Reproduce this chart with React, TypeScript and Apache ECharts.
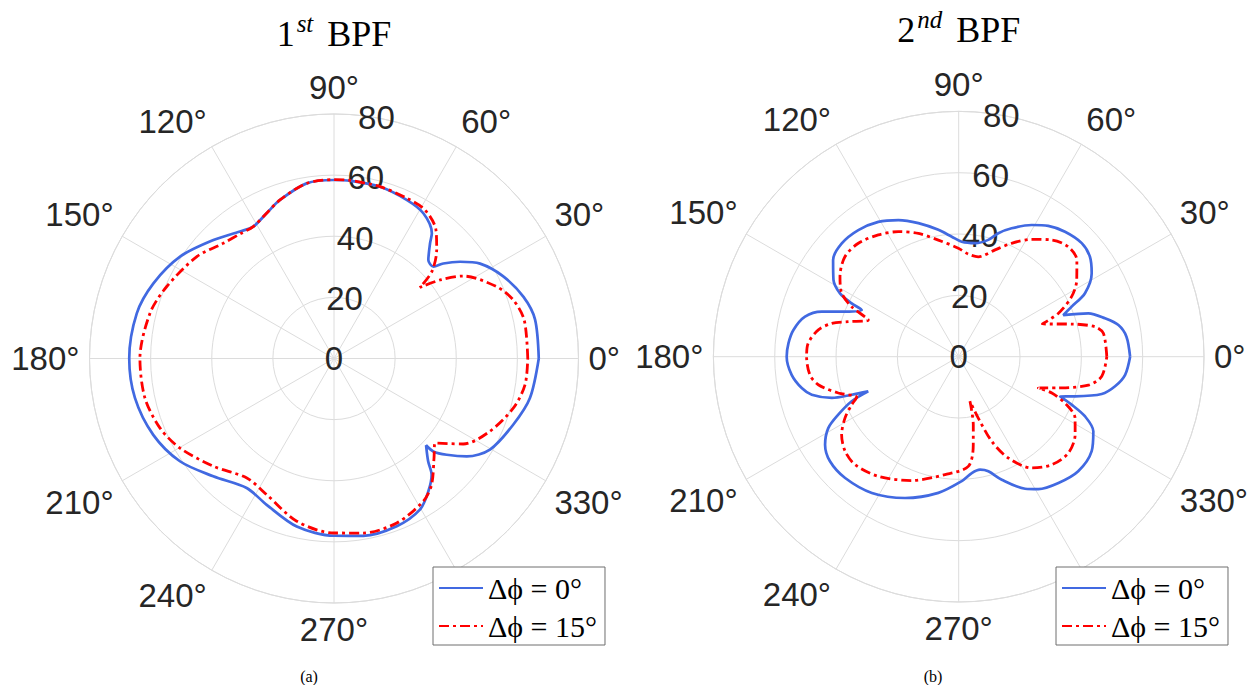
import React, { useEffect, useRef } from "react";
import * as echarts from "echarts";

// ---------- data ----------
const seriesNames = ["Δϕ = 0°", "Δϕ = 15°"];
const radiusTicks = [0, 20, 40, 60, 80];
const angleStep = 30;
// angle tick hidden under the legend box in the reference
const hiddenAngleLabels = [300, 360];

// 1st BPF, Δϕ = 0°
const left0Angles = [0, 11, 18, 26, 33, 37.5, 41, 42.7, 46.2, 50.2, 52, 58.4, 65.4, 75, 84.9, 90, 98.9, 108.8, 114.9, 121.5, 126.5, 135.5, 146.5, 157.4, 167.1, 180, 191.2, 202.9, 213.7, 224.3, 236, 245.3, 257.5, 270, 279.4, 290.5, 299.6, 305.4, 310, 312.5, 316.7, 316.9, 319.5, 323.6, 329.7, 339.7, 348.6, 360];
const left0R = [67, 67, 65.2, 61.5, 57, 52, 47.4, 44.3, 44.6, 49.1, 52, 55.8, 57.1, 58.2, 58.4, 58.4, 58, 54.8, 52.4, 50.6, 51.7, 55.3, 60.4, 64, 66.2, 67, 66.4, 64.2, 60.6, 55.2, 51.1, 52.7, 56.3, 58, 58.8, 58.6, 56.9, 53.3, 49.7, 45.6, 41.4, 44.5, 48.5, 54, 59.1, 62.5, 65.4, 67];

// 1st BPF, Δϕ = 15°
const left15Angles = [0, 11.4, 18.1, 23.8, 32.5, 36.5, 39.6, 41.6, 46.6, 51.6, 58.5, 65.6, 75, 84.9, 90, 98.9, 108.8, 114.9, 121.5, 126.5, 133.9, 143.4, 156.8, 166.2, 180, 191.8, 201.8, 210.2, 221.8, 233.9, 243.7, 257.1, 270, 279.5, 290.9, 302, 307.7, 315.1, 320.1, 326.5, 335, 344.6, 352.2, 360];
const left15R = [63.4, 63.5, 61.7, 58.2, 50.2, 43.2, 36.5, 42.8, 48.9, 53.7, 57, 57.6, 58.2, 58.5, 58.5, 58, 54.8, 52.4, 50.6, 51, 52.3, 55.9, 59.6, 62, 63.5, 63.2, 61.3, 58.3, 52.9, 48.4, 49.7, 54.6, 57.1, 57.9, 57.6, 55.1, 52.2, 46.2, 43.1, 50.7, 56.3, 60.9, 63.1, 63.4];

// 2nd BPF, Δϕ = 0°
const right0Angles = [0, 6.8, 11.2, 14.7, 18.5, 21.7, 23.9, 26.7, 32.1, 37.3, 42.7, 49.6, 55.6, 61, 67.6, 72.2, 75.8, 81.8, 88.5, 93.3, 99.1, 106.8, 113.8, 120.8, 128.4, 135.9, 142.4, 148.5, 151.9, 153.5, 154.3, 158.4, 161.8, 165.4, 170.8, 175.5, 180, 186.2, 191.3, 194.5, 198, 199.6, 201, 202.6, 205.7, 208.7, 213.4, 219.1, 226.9, 237.5, 249.2, 261.5, 271.4, 276.4, 280.7, 284.5, 289.3, 296.7, 301, 308.3, 316.2, 324.6, 331, 334.7, 337, 338.6, 341.2, 345.4, 349.3, 353.8, 360];
const right0R = [55.9, 55.1, 53.1, 49.3, 44.6, 36.7, 40.3, 46.1, 51.2, 53.8, 54.6, 53.5, 51.7, 49.1, 45.3, 42.3, 39.3, 37.4, 37.5, 39.2, 41.9, 45.5, 48.7, 51.2, 52.7, 53.1, 51.7, 47.9, 43.9, 39, 35.1, 39.9, 47, 51.8, 54.6, 55.7, 56.1, 54.8, 52.2, 49.5, 43.5, 37, 31.6, 37.8, 43.6, 48.5, 52.2, 54.1, 54.2, 52.7, 49.3, 44.9, 40.6, 38.2, 37.5, 38.6, 42.5, 48.2, 50.4, 52.5, 54, 53.2, 50.2, 45.6, 40, 35.5, 40.1, 48.2, 51.9, 54.6, 55.9];

// 2nd BPF, Δϕ = 15°
const right15Angles = [0, 9.2, 12.4, 16.1, 21.4, 23.5, 28, 33, 39.3, 45.1, 51.4, 58.1, 65, 71.2, 78.9, 84.7, 90.2, 99.9, 108.1, 115.8, 123.4, 131.5, 138.7, 146, 151.5, 155, 157.9, 162.4, 165.3, 169.2, 174.9, 180, 186.9, 191.3, 196.8, 201.7, 204.2, 208.3, 213.7, 219.8, 226.2, 236.1, 249.2, 263.4, 275, 279.4, 282.1, 284.2, 287.7, 291.3, 296.1, 303.3, 310.7, 318.7, 326.2, 332.2, 336, 338.7, 338.5, 342.6, 347.6, 352.2, 360];
const right15R = [48.3, 47.8, 45.5, 38.4, 29.3, 35.4, 41.7, 45.9, 49.8, 50.6, 48.7, 45.1, 40.8, 36.8, 33.2, 33.6, 35.4, 38.6, 42.3, 45.3, 47.6, 49.4, 49.4, 46.7, 43.4, 38.5, 31.8, 37.8, 42.8, 46.6, 49.3, 49.6, 48.9, 46.7, 41, 35.8, 38.3, 42.1, 45.9, 48.2, 48.8, 47, 43.2, 38.7, 35.9, 29.1, 22.7, 15, 21, 29.6, 36.8, 43.4, 46.5, 47.6, 45.7, 42.9, 38.5, 32.6, 27.9, 34, 43.3, 47.1, 48.3];

const panelTitles = [
  { base: "1", sup: "st", rest: " BPF" },
  { base: "2", sup: "nd", rest: " BPF" },
];
const captions = ["(a)", "(b)"];

// ---------- styles ----------
const BLUE = "#4169e1";
const RED = "#ff0000";
const GRID = "#dcdcdc";
const TXT = "#262626";
const SANS = "Liberation Sans, Arial, Helvetica, sans-serif";
const SERIF = "Liberation Serif, DejaVu Serif, serif";

const panels = [
  { center: [334, 358.5], radius: 244.5, titleY: 33.5, legendLeft: 433, capX: 309 },
  { center: [958.7, 356.7], radius: 245.3, titleY: 30, legendLeft: 1056, capX: 933 },
];

const pairs = (r: number[], a: number[]) => r.map((v, i) => [v, a[i]]);

function buildOption() {
  const polar: any[] = [];
  const angleAxis: any[] = [];
  const radiusAxis: any[] = [];
  const series: any[] = [];
  const legend: any[] = [];
  const graphic: any[] = [];
  const rMax = radiusTicks[radiusTicks.length - 1];
  const rStep = radiusTicks[1] - radiusTicks[0];
  const dataSets = [
    [pairs(left0R, left0Angles), pairs(left15R, left15Angles)],
    [pairs(right0R, right0Angles), pairs(right15R, right15Angles)],
  ];

  panels.forEach((p, k) => {
    const main = polar.length;
    polar.push({ center: p.center, radius: p.radius });
    polar.push({ center: p.center, radius: p.radius });
    angleAxis.push({
      polarIndex: main,
      type: "value",
      min: 0,
      max: 360,
      interval: angleStep,
      startAngle: 0,
      clockwise: false,
      axisLine: { show: true, lineStyle: { color: GRID, width: 1 } },
      axisTick: { show: false },
      axisLabel: {
        show: true,
        margin: 10,
        fontSize: 33,
        fontFamily: SANS,
        color: TXT,
        formatter: (v: number) => (hiddenAngleLabels.indexOf(v) >= 0 ? "" : v + "°"),
      },
      splitLine: { show: true, lineStyle: { color: GRID, width: 1 } },
    });
    angleAxis.push({
      polarIndex: main + 1,
      type: "value",
      min: 0,
      max: 360,
      startAngle: 80,
      clockwise: false,
      show: false,
    });
    radiusAxis.push({
      polarIndex: main,
      type: "value",
      min: 0,
      max: rMax,
      interval: rStep,
      axisLine: { show: false },
      axisTick: { show: false },
      axisLabel: { show: false },
      splitLine: { show: true, lineStyle: { color: GRID, width: 1 } },
    });
    radiusAxis.push({
      polarIndex: main + 1,
      type: "value",
      min: 0,
      max: rMax,
      interval: rStep,
      z: 1,
      axisLine: { show: false },
      axisTick: { show: false },
      splitLine: { show: false },
      axisLabel: {
        show: true,
        margin: 0,
        align: "center",
        verticalAlign: "middle",
        fontSize: 33,
        fontFamily: SANS,
        color: TXT,
      },
    });
    series.push({
      type: "line",
      name: seriesNames[0],
      coordinateSystem: "polar",
      polarIndex: main,
      data: dataSets[k][0],
      symbol: "none",
      smooth: 0.3,
      z: 3,
      lineStyle: { color: BLUE, width: 2.7 },
      itemStyle: { color: BLUE },
    });
    series.push({
      type: "line",
      name: seriesNames[1],
      coordinateSystem: "polar",
      polarIndex: main,
      data: dataSets[k][1],
      symbol: "none",
      smooth: 0.3,
      z: 4,
      lineStyle: { color: RED, width: 2.8, type: [10, 4, 3, 4] },
      itemStyle: { color: RED },
    });
    legend.push({
      data: seriesNames,
      orient: "vertical",
      left: p.legendLeft,
      top: 567,
      padding: [6, 8, 4, 5],
      itemGap: 8,
      itemWidth: 44,
      itemHeight: 30,
      selectedMode: false,
      backgroundColor: "#ffffff",
      borderColor: "#6e6e6e",
      borderWidth: 1,
      borderRadius: 0,
      itemStyle: { opacity: 0 },
      textStyle: {
        color: "#000",
        fontFamily: SERIF,
        fontSize: 30,
      },
    });
    const t = panelTitles[k];
    graphic.push({
      type: "text",
      x: p.center[0],
      y: p.titleY,
      style: {
        text: "{n|" + t.base + "}{s|" + t.sup + "}{n|" + t.rest + "}",
        align: "center",
        verticalAlign: "middle",
        fill: "#000",
        rich: {
          n: { fontFamily: SERIF, fontSize: 36, lineHeight: 46, fill: "#000" },
          s: { fontFamily: SERIF, fontSize: 25, fontStyle: "italic", lineHeight: 25, verticalAlign: "top", padding: [0, 5, 0, 2], fill: "#000" },
        },
      },
    });
    graphic.push({
      type: "text",
      x: p.capX,
      y: 676,
      style: {
        text: captions[k],
        align: "center",
        verticalAlign: "middle",
        fontFamily: SERIF,
        fontSize: 16,
        fill: "#000",
      },
    });
  });

  return {
    animation: false,
    backgroundColor: "#ffffff",
    polar,
    angleAxis,
    radiusAxis,
    series,
    legend,
    graphic,
  };
}

export default function App() {
  const ref = useRef<HTMLDivElement>(null);
  useEffect(() => {
    if (!ref.current) return;
    const chart = echarts.init(ref.current, null, { renderer: "svg" });
    chart.setOption(buildOption() as any);
    return () => chart.dispose();
  }, []);
  return (
    <div
      ref={ref}
      style={{ position: "fixed", left: 0, top: 0, width: 1253, height: 685, background: "#fff" }}
    />
  );
}
